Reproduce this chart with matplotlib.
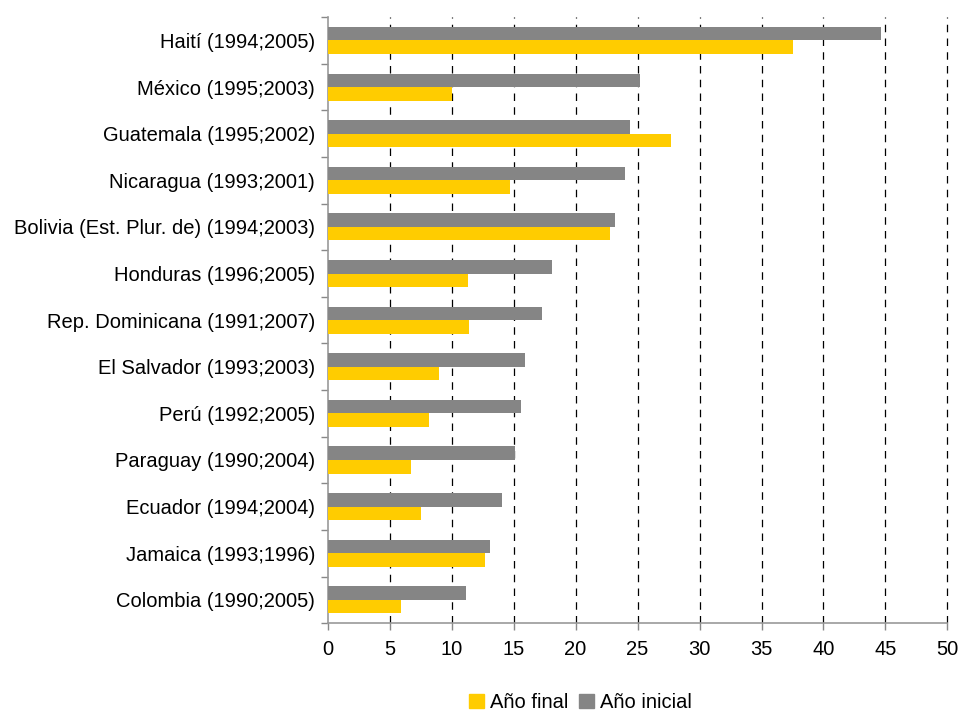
import matplotlib
matplotlib.use("Agg")
import matplotlib.pyplot as plt
import numpy as np
from matplotlib.patches import Patch

categories = ["Haití (1994;2005)", "México (1995;2003)", "Guatemala (1995;2002)",
              "Nicaragua (1993;2001)", "Bolivia (Est. Plur. de) (1994;2003)",
              "Honduras (1996;2005)", "Rep. Dominicana (1991;2007)",
              "El Salvador (1993;2003)", "Perú (1992;2005)", "Paraguay (1990;2004)",
              "Ecuador (1994;2004)", "Jamaica (1993;1996)", "Colombia (1990;2005)"]
ano_inicial = [44.6, 25.2, 24.4, 24.0, 23.2, 18.1, 17.3, 15.9, 15.6, 15.1, 14.1, 13.1, 11.2]
ano_final = [37.5, 10.0, 27.7, 14.7, 22.8, 11.3, 11.4, 9.0, 8.2, 6.7, 7.5, 12.7, 5.9]
xticks = [0, 5, 10, 15, 20, 25, 30, 35, 40, 45, 50]

plt.rcParams['font.family'] = ['Liberation Sans', 'DejaVu Sans']

fig = plt.figure(figsize=(9.58, 7.13), dpi=100)
ax = fig.add_axes([0.342, 0.126, 0.647, 0.850])

gray = "#858585"
yellow = "#FFCC00"
fs = 14.5
n = len(categories)
y = np.arange(n)
h = 0.29
ax.barh(y - h / 2, ano_inicial, height=h, color=gray, zorder=3)
ax.barh(y + h / 2, ano_final, height=h, color=yellow, zorder=3)

ax.set_ylim(n - 0.5, -0.5)
ax.set_xlim(0, 50)
ax.set_xticks(xticks)
ax.set_xticklabels([str(t) for t in xticks], fontsize=fs)
ax.set_yticks(y)
ax.set_yticklabels(categories, fontsize=fs)
ax.set_yticks(np.arange(-0.5, n, 1.0), minor=True)
ax.tick_params(axis='y', which='major', length=0, pad=9)
ax.tick_params(axis='y', which='minor', length=5, color="#888888", width=1)
ax.tick_params(axis='x', which='major', length=5, color="#888888", width=1, pad=7)

for t in xticks[1:]:
    ax.axvline(t, color="black", linestyle=(0, (6, 5)), linewidth=0.9, zorder=1, clip_on=False)

for s in ["top", "right"]:
    ax.spines[s].set_visible(False)
for s in ["left", "bottom"]:
    ax.spines[s].set_color("#999999")
    ax.spines[s].set_linewidth(1.2)

handles = [Patch(color=yellow, label="Año final"), Patch(color=gray, label="Año inicial")]
fig.legend(handles=handles, loc="lower center", bbox_to_anchor=(0.606, -0.024), ncol=2,
           frameon=False, fontsize=fs, handlelength=0.75, handleheight=0.75,
           handletextpad=0.3, columnspacing=0.5)

fig.savefig("out.png", dpi=100)
